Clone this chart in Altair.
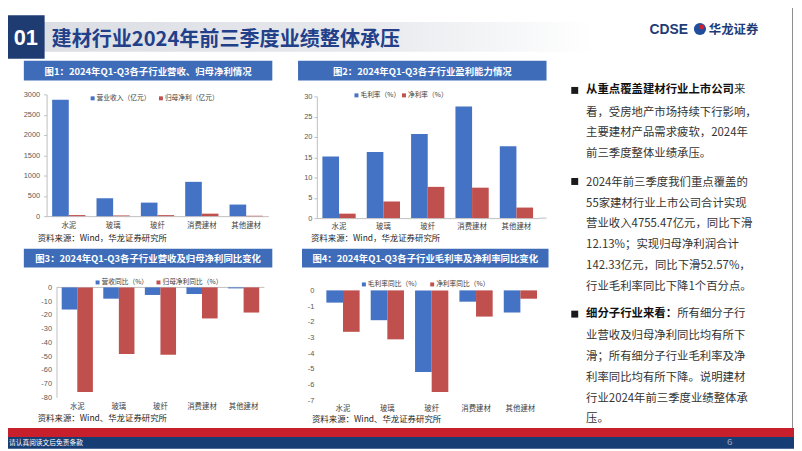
import altair as alt
import pandas as pd

# ---------------- data ----------------
cats = ["水泥", "玻璃", "玻纤", "消费建材", "其他建材"]

c1_series = ["营业收入（亿元）", "归母净利（亿元）"]
c1_rev = [2870, 440, 333, 845, 285]
c1_np = [26, 17, 25, 61, 7]

c2_series = ["毛利率（%）", "净利率（%）"]
c2_gm = [15.2, 16.3, 20.7, 27.5, 17.7]
c2_nm = [1.1, 4.1, 7.7, 7.5, 2.6]

c3_series = ["营收同比（%）", "归母净利同比（%）"]
c3_rev_yoy = [-16.1, -8.2, -5.5, -4.8, -0.7]
c3_np_yoy = [-76.2, -48.5, -49.0, -22.6, -18.3]

c4_series = ["毛利率同比（%）", "净利率同比（%）"]
c4_gm_yoy = [-0.78, -1.9, -5.2, -0.72, -1.41]
c4_nm_yoy = [-2.64, -3.12, -6.47, -1.67, -0.53]

c1_ticks = [0, 500, 1000, 1500, 2000, 2500, 3000]
c2_ticks = [0, 5, 10, 15, 20, 25, 30]
c3_ticks = [0, -10, -20, -30, -40, -50, -60, -70, -80]
c4_ticks = [0, -1, -2, -3, -4, -5, -6, -7]

title_main = "建材行业2024年前三季度业绩整体承压"
fig_titles = [
    "图1：2024年Q1-Q3各子行业营收、归母净利情况",
    "图2：2024年Q1-Q3各子行业盈利能力情况",
    "图3：2024年Q1-Q3各子行业营收及归母净利同比变化",
    "图4：2024年Q1-Q3各子行业毛利率及净利率同比变化",
]
sources = [
    "资料来源：Wind，华龙证券研究所",
    "资料来源：Wind，华龙证券研究所",
    "资料来源：Wind、华龙证券研究所",
    "资料来源：Wind、华龙证券研究所",
]
p1_bold = "从重点覆盖建材行业上市公司"
p1_first_rest = "来"
p1 = ["看，受房地产市场持续下行影响，", "主要建材产品需求疲软，2024年", "前三季度整体业绩承压。"]
p2 = ["2024年前三季度我们重点覆盖的", "55家建材行业上市公司合计实现", "营业收入4755.47亿元，同比下滑",
      "12.13%；实现归母净利润合计", "142.33亿元，同比下滑52.57%，", "行业毛利率同比下降1个百分点。"]
p3_bold = "细分子行业来看："
p3_first_rest = "所有细分子行"
p3 = ["业营收及归母净利同比均有所下", "滑；所有细分子行业毛利率及净",
      "利率同比均有所下降。说明建材", "行业2024年前三季度业绩整体承", "压。"]

# ---------------- style ----------------
W, H = 794, 443
CJK = "Noto Sans CJK SC"
NUM = "Liberation Sans"
BLUE = "#4472C4"
RED = "#C0504D"
NAVY = "#1E3C72"
BAR_BLUE = "#3E6CB8"


def px(v):
    return v - 8


dummy = pd.DataFrame({"d": [0]})


def rect(x1, y1, x2, y2, color, **kw):
    return alt.Chart(dummy).mark_rect(color=color, **kw).encode(
        x=alt.value(px(x1)), x2=alt.value(px(x2)), y=alt.value(px(y1)), y2=alt.value(px(y2)))


def text(x, y, s, size, color, weight="normal", align="left", baseline="middle", font=CJK, **kw):
    return alt.Chart(dummy).mark_text(text=s, fontSize=size, color=color, fontWeight=weight,
                                      align=align, baseline=baseline, font=font, **kw).encode(
        x=alt.value(px(x)), y=alt.value(px(y)))


def make_df(series, a, b):
    rows = []
    for c, v in zip(cats, a):
        rows.append({"cat": c, "series": series[0], "value": v})
    for c, v in zip(cats, b):
        rows.append({"cat": c, "series": series[1], "value": v})
    return pd.DataFrame(rows)


def bars(df, series, xr, ydom, ypix, yvals, yaxis_x, y_domain, y_ticks, y_lpad,
         xaxis_y, x_domain, x_lpad, x_dom_ext=None):
    return alt.Chart(df).mark_bar().encode(
        x=alt.X("cat:N", sort=cats, title=None,
                scale=alt.Scale(domain=cats, range=[px(xr[0]), px(xr[1])],
                                paddingInner=0.25, paddingOuter=0.125),
                axis=alt.Axis(orient="bottom", offset=px(xaxis_y) - H, domain=x_domain,
                              domainColor="#BFBFBF", domainWidth=1, ticks=False, tickSize=0,
                              labelPadding=x_lpad, labelAngle=0, labelFont=CJK, labelFontSize=7.5,
                              labelColor="#404040", grid=False)),
        xOffset=alt.XOffset("series:N", sort=series, scale=alt.Scale(domain=series)),
        y=alt.Y("value:Q", title=None,
                scale=alt.Scale(domain=ydom, range=[px(ypix[0]), px(ypix[1])], nice=False),
                axis=alt.Axis(orient="left", offset=-px(yaxis_x), values=yvals, domain=y_domain,
                              domainColor="#BFBFBF", ticks=y_ticks, tickSize=3 if y_ticks else 0,
                              tickColor="#BFBFBF", labelPadding=y_lpad, labelFont=NUM,
                              labelFontSize=7.5, labelColor="#595959",
                              labelExpr="datum.value + ''", grid=False)),
        color=alt.Color("series:N", sort=series,
                        scale=alt.Scale(domain=series, range=[BLUE, RED]), legend=None),
    )


def legend(series, sym_pts, y):
    out = []
    for s, c, sx in zip(series, [BLUE, RED], sym_pts):
        out.append(rect(sx - 2, y - 2, sx + 2, y + 2, c))
        out.append(text(sx + 4, y, s, 6.8, "#404040"))
    return out


layers = []

# header
layers.append(rect(0, 20, 600, 50, alt.LinearGradient(
    gradient="linear", x1=0, x2=1, y1=0, y2=0,
    stops=[alt.GradientStop(color="#DADDE3", offset=0),
           alt.GradientStop(color="#E6E8EC", offset=0.6),
           alt.GradientStop(color="#FFFFFF", offset=1)])))
layers.append(rect(7, 13, 45, 57, NAVY))
layers.append(text(26, 36, "01", 22, "white", weight="bold", align="center", font=NUM))
layers.append(text(52, 38, title_main, 20.3, "#22408A", weight="bold"))
# logo
layers.append(text(656, 28, "CDSE", 14, "#1F3C78", weight="bold", font=NUM))
layers.append(alt.Chart(dummy).mark_circle(size=150, color="#1E4E9C", opacity=1).encode(
    x=alt.value(px(707)), y=alt.value(px(27))))
layers.append(alt.Chart(dummy).mark_circle(size=25, color="#D0202E", opacity=1).encode(
    x=alt.value(px(709)), y=alt.value(px(25))))
layers.append(text(716, 28, "华龙证券", 12.5, "#1F3C78", weight="bold"))

# right border
layers.append(rect(800, 0, 801, 430, "#8C8C8C"))

# figure title bars
bars_pos = [(24, 59, 275, 79), (301, 59, 552, 79), (24, 249, 275, 268), (305, 249, 554, 268)]
for (x1, y1, x2, y2), t in zip(bars_pos, fig_titles):
    layers.append(rect(x1, y1, x2, y2, BAR_BLUE))
    layers.append(text((x1 + x2) / 2, (y1 + y2) / 2 + 1, t, 9.5, "white", weight="bold", align="center"))

# source lines
for (x, y), s in zip([(38, 238), (314, 238), (38, 420), (315, 421)], sources):
    layers.append(text(x, y, s, 8.5, "#262626"))

# chart 3 zero line
layers.append(alt.Chart(dummy).mark_rule(color="#BFBFBF").encode(
    x=alt.value(px(57)), x2=alt.value(px(267)),
    y=alt.YDatum(0, scale=alt.Scale(domain=[-80, 0], range=[px(399), px(288)], nice=False), axis=None)))

# the four bar charts
layers.append(bars(make_df(c1_series, c1_rev, c1_np), c1_series, (47, 271), [0, 3000], (216, 93), c1_ticks,
                   47, True, True, 4, 216, True, 5))
layers.append(bars(make_df(c2_series, c2_gm, c2_nm), c2_series, (320, 544), [0, 30], (218, 95), c2_ticks,
                   320, True, True, 2, 218, True, 4))
layers.append(bars(make_df(c3_series, c3_rev_yoy, c3_np_yoy), c3_series, (57, 267), [-80, 0], (399, 288), c3_ticks,
                   57, True, False, 5, 399, False, 5))
layers.append(bars(make_df(c4_series, c4_gm_yoy, c4_nm_yoy), c4_series, (324, 548), [-7, 0], (402, 291), c4_ticks,
                   324, False, False, 7, 402, False, 4))
# chart 2 x domain extends to the right edge of plot area
layers.append(rect(544, 217.5, 552, 218.5, "#BFBFBF"))

# legends
layers += legend(c1_series, [93.5, 162.5], 97)
layers += legend(c2_series, [360, 408], 94)
layers += legend(c3_series, [98.5, 160], 283)
layers += legend(c4_series, [367.5, 436.5], 285)

# right text column
TXT = "#333333"
LH = 21
FS = 11.5
X0 = 592
for yc in [89, 181, 315]:
    layers.append(rect(577, yc - 3.5, 584, yc + 3.5, "#1A1A1A"))
layers.append(text(X0, 89, p1_bold, FS, "#111111", weight="bold"))
layers.append(text(X0 + len(p1_bold) * FS, 89, p1_first_rest, FS, TXT))
layers.append(text(X0, 89 + LH - 4.6, p1, FS, TXT, baseline="top", lineHeight=LH))
layers.append(text(X0, 181 - 4.6, p2, FS, TXT, baseline="top", lineHeight=LH))
layers.append(text(X0, 315, p3_bold, FS, "#111111", weight="bold"))
layers.append(text(X0 + len(p3_bold) * FS, 315, p3_first_rest, FS, TXT))
layers.append(text(X0, 315 + LH - 4.6, p3, FS, TXT, baseline="top", lineHeight=LH))

# footer
layers.append(rect(0, 430, 802, 439, "#C81F2D"))
layers.append(rect(0, 439, 802, 451, "#173D75"))
layers.append(text(9, 445, "请认真阅读文后免责条款", 6.8, "white"))
layers.append(text(737, 444, "6", 10, "#9AA6BF", align="center", font=NUM))

chart = alt.layer(*layers).resolve_scale(
    x="independent", y="independent", color="independent", xOffset="independent"
).resolve_axis(x="independent", y="independent").properties(
    width=W, height=H, padding=0, autosize=alt.AutoSizeParams(type="none"), background="white"
).configure_view(strokeWidth=0).configure_axis(grid=False)

chart.save("out.html", embed_options={"renderer": "svg", "actions": False})
